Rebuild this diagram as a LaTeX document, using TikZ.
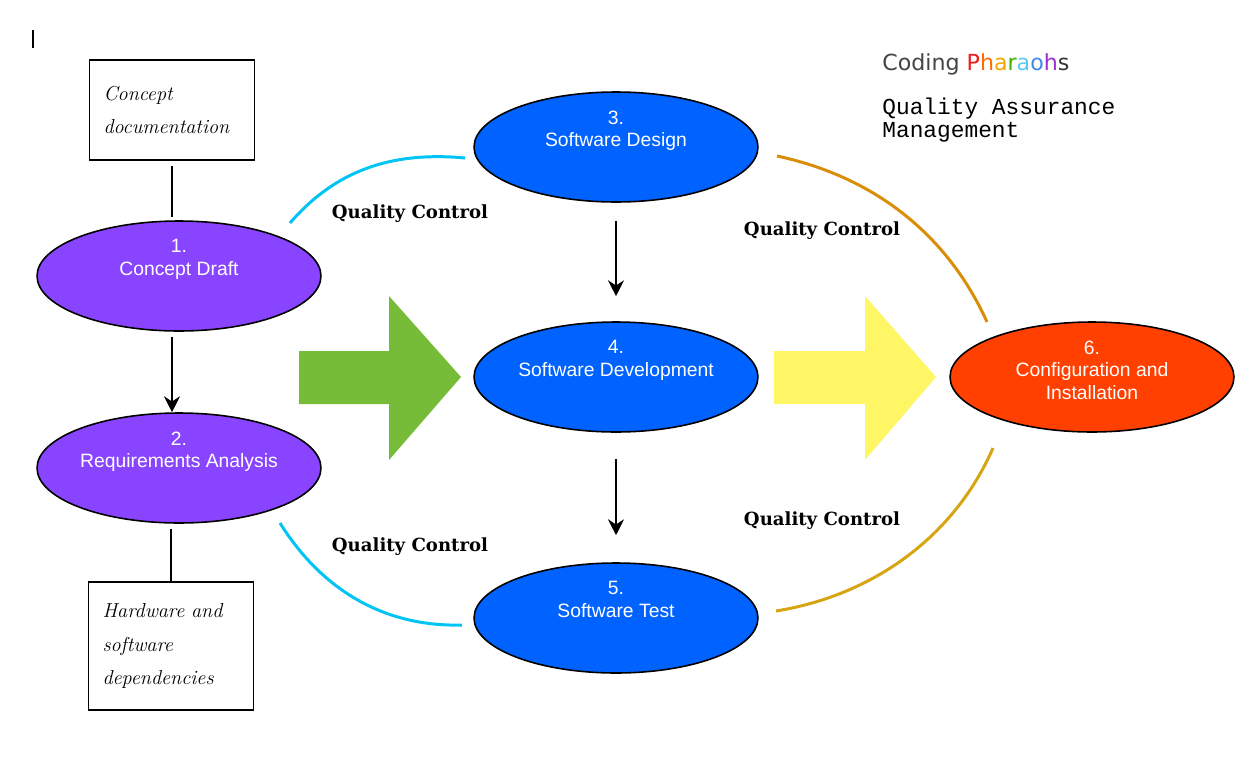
\documentclass[tikz,border=0pt]{standalone}
\usepackage{fontspec}
\usetikzlibrary{shapes,arrows.meta,positioning}
\newfontfamily\helv{Liberation Sans}
\newfontfamily\qcfont{DejaVu Serif}
\newfontfamily\monofont{Liberation Mono}
\newfontfamily\handfont{DejaVu Sans}
\definecolor{phaseviolet}{HTML}{8844FF}
\definecolor{phaseblue}{HTML}{0062FF}
\definecolor{phasered}{HTML}{FF4000}
\definecolor{arrowgreen}{HTML}{76BC38}
\definecolor{arrowyellow}{HTML}{FFF666}
\definecolor{qccyan}{HTML}{00C4F4}
\definecolor{qcorange}{HTML}{D98E0A}
\definecolor{qcgold}{HTML}{D6A511}
\tikzstyle{phase} = [draw,ellipse,line width=0.9pt,inner sep=0,minimum width=5.68cm,minimum height=2.2cm]
\tikzstyle{phasetext} = [anchor=north,inner sep=0,align=center,text=white,font=\helv\fontsize{11}{13}\selectfont]
\tikzstyle{note} = [draw,line width=0.8pt,rectangle,inner xsep=8pt,text width=2.74cm,align=left,font=\itshape\fontsize{11.5}{19}\selectfont]
\tikzstyle{link} = [-,line width=1.7pt]
\tikzstyle{flow} = [-{Stealth[length=9pt,width=9pt]},line width=1.5pt]
\tikzstyle{qcarc} = [line width=1.7pt]
\tikzstyle{qc} = [font=\qcfont\bfseries\fontsize{10.3}{12}\selectfont]
\def \px {0.02cm}

\begin{document}
\begin{tikzpicture}[x=0.02cm,y=-0.02cm]
      \useasboundingbox (0,0) rectangle (1257,768);
      \draw[line width=0.6pt] (33,30) -- (33,48);
      % phases
      \node[phase,fill=phaseviolet] (e1) at (179,276) {};
      \node[phase,fill=phaseviolet] (e2) at (179,468) {};
      \node[phase,fill=phaseblue] (e3) at (616,147) {};
      \node[phase,fill=phaseblue] (e4) at (616,377) {};
      \node[phase,fill=phaseblue] (e5) at (616,618) {};
      \node[phase,fill=phasered] (e6) at (1092,377) {};
      \node[phasetext] (t1) at ([yshift=-19*\px]e1.north) {1.\\Concept Draft};
      \node[phasetext] (t2) at ([yshift=-19*\px]e2.north) {2.\\Requirements Analysis};
      \node[phasetext] (t3) at ([yshift=-19*\px]e3.north) {3.\\Software Design};
      \node[phasetext] (t4) at ([yshift=-19*\px]e4.north) {4.\\Software Development};
      \node[phasetext] (t5) at ([yshift=-19*\px]e5.north) {5.\\Software Test};
      \node[phasetext] (t6) at ([yshift=-19*\px]e6.north) {6.\\Configuration and\\Installation};
      % notes
      \node[note,minimum height=2cm] (b1) at (172,110) {Concept\\documentation};
      \node[note,minimum height=2.56cm] (b2) at (171,646) {Hardware and\\software\\dependencies};
      \draw[link,shorten <=5*\px,shorten >=3*\px] (b1.south) -- (b1.south |- e1.north);
      \draw[link,shorten <=5*\px] (b2.north |- e2.south) -- (b2.north);
      \draw[flow,shorten <=5*\px] (b1.south |- e1.south) -- (b1.south |- e2.north);
      \draw[flow,shorten <=18*\px,shorten >=25*\px] (e3) -- (e4);
      \draw[flow,shorten <=26*\px,shorten >=27*\px] (e4) -- (e5);
      % big arrows
      \fill[arrowgreen] (299,351) -- (389,351) -- (389,296) -- (461,377) -- (389,460) -- (389,404) -- (299,404) -- cycle;
      \fill[arrowyellow] (774,351) -- (865,351) -- (865,296) -- (936,377) -- (865,460) -- (865,404) -- (774,404) -- cycle;
      % quality control
      \coordinate (qa1) at (290,223);
      \coordinate (qb1) at (465,158);
      \coordinate (qa2) at (280,523);
      \coordinate (qb2) at (462,625);
      \coordinate (qa3) at (777,156);
      \coordinate (qb3) at (987,322);
      \coordinate (qa4) at (993,448);
      \coordinate (qb4) at (776,611);
      \draw[qcarc,qccyan] (qa1) .. controls (340,165) and (400,152) .. (qb1);
      \draw[qcarc,qccyan] (qa2) .. controls (325,595) and (390,627) .. (qb2);
      \draw[qcarc,qcorange] (qa3) .. controls (880,178) and (950,240) .. (qb3);
      \draw[qcarc,qcgold] (qa4) .. controls (955,535) and (875,595) .. (qb4);
      \node[qc] (qc1) at (410,214) {Quality Control};
      \node[qc] (qc2) at (822,231) {Quality Control};
      \node[qc] (qc3) at (410,547) {Quality Control};
      \node[qc] (qc4) at (822,521) {Quality Control};
      % title
      \node[anchor=west,inner sep=0,font=\handfont\fontsize{12.6}{14}\selectfont] (brand) at (882,64)
        {\textcolor[HTML]{444444}{Coding} \textcolor[HTML]{EE1C1C}{P}\textcolor[HTML]{FF6A00}{h}\textcolor[HTML]{F5A500}{a}\textcolor[HTML]{3DB000}{r}\textcolor[HTML]{5AC8F0}{a}\textcolor[HTML]{3C8CF0}{o}\textcolor[HTML]{9B30D0}{h}\textcolor[HTML]{333333}{s}};
      \node[anchor=north west,inner sep=0,align=left,font=\monofont\fontsize{13}{13}\selectfont] (qam) at (882,98) {Quality Assurance\\Management};
\end{tikzpicture}
\end{document}
